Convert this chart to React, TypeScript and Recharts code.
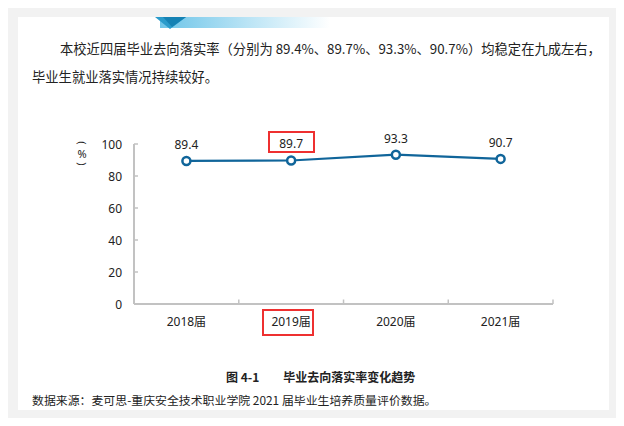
import React from 'react';
import { LineChart, Line, XAxis, YAxis, LabelList } from 'recharts';

const categories = ['2018届', '2019届', '2020届', '2021届'];
const rates = [89.4, 89.7, 93.3, 90.7];
const yTicks = [0, 20, 40, 60, 80, 100];

const chartData = categories.map((year, i) => ({ year, rate: rates[i] }));

const LINE_COLOR = '#10659a';
const AXIS_COLOR = '#c2c2c2';
const TEXT_COLOR = '#222222';
const FONT = '"Noto Sans", "Noto Sans CJK SC", sans-serif';
const CJK_FONT = '"Noto Sans CJK SC", "Noto Sans", sans-serif';
const HALF_BAND = 52.4;

const YTick = (props: any) => {
  const { x, y, payload } = props;
  const axisX = x + 12;
  return (
    <g>
      <line x1={axisX} x2={axisX + 4} y1={y} y2={y} stroke={AXIS_COLOR} strokeWidth={1.5} />
      <text x={x} y={y} dy={4.5} textAnchor="end" fontSize={12} fill={TEXT_COLOR} fontFamily={FONT}>
        {payload.value}
      </text>
    </g>
  );
};

const XTick = (props: any) => {
  const { x, y, payload } = props;
  const edge = x + HALF_BAND;
  return (
    <g>
      <line x1={edge} x2={edge} y1={y} y2={y - 4.5} stroke={AXIS_COLOR} strokeWidth={1.5} />
      <text x={x} y={y} dy={22} textAnchor="middle" fontSize={12} fill={TEXT_COLOR} fontFamily={FONT}>
        {payload.value}
      </text>
    </g>
  );
};

const redBox = (left: number, top: number, width: number, height: number): React.CSSProperties => ({
  position: 'absolute',
  left,
  top,
  width,
  height,
  border: '2.5px solid #ee3030',
  boxSizing: 'border-box',
});

export default function App() {
  return (
    <div style={{ position: 'relative', width: 624, height: 426, margin: -8, background: '#ffffff', overflow: 'hidden' }}>
      {/* page frame */}
      <div style={{ position: 'absolute', left: 6, top: 6, width: 613, height: 415, background: '#f2f2f2', border: '1px solid #cccccc', boxSizing: 'border-box' }} />
      <div style={{ position: 'absolute', left: 18, top: 17, width: 591, height: 393, background: '#ffffff' }} />

      {/* heading ribbon */}
      <div style={{ position: 'absolute', left: 160, top: 17, width: 170, height: 11, background: 'linear-gradient(to right, #6cc4e8, #bfe6f6 55%, #ffffff)' }} />
      <svg style={{ position: 'absolute', left: 0, top: 0 }} width={624} height={40}>
        <polygon points="155,17 186,17 170,29" fill="#2a9bcb" />
        <polygon points="163,17 186,17 172,27" fill="#1582b4" />
      </svg>

      {/* paragraph */}
      <div style={{ position: 'absolute', left: 60, top: 39, fontFamily: CJK_FONT, fontSize: 13.3, color: TEXT_COLOR, whiteSpace: 'nowrap', lineHeight: '20px' }}>
        本校近四届毕业去向落实率（分别为 89.4%、89.7%、93.3%、90.7%）均稳定在九成左右，
      </div>
      <div style={{ position: 'absolute', left: 32, top: 67, fontFamily: CJK_FONT, fontSize: 13.3, color: TEXT_COLOR, whiteSpace: 'nowrap', lineHeight: '20px' }}>
        毕业生就业落实情况持续较好。
      </div>

      {/* chart */}
      <div style={{ position: 'absolute', left: 0, top: 0 }}>
        <LineChart width={624} height={426} data={chartData} margin={{ top: 144, right: 71, bottom: 92, left: 74 }}>
          <XAxis
            dataKey="year"
            height={30}
            padding={{ left: HALF_BAND, right: HALF_BAND }}
            axisLine={{ stroke: AXIS_COLOR, strokeWidth: 2 }}
            tickLine={false}
            tickSize={0}
            tickMargin={0}
            tick={<XTick />}
            interval={0}
          />
          <YAxis
            width={60}
            domain={[0, 100]}
            ticks={yTicks}
            axisLine={{ stroke: AXIS_COLOR, strokeWidth: 2 }}
            tickLine={false}
            tickSize={0}
            tickMargin={12}
            tick={<YTick />}
            interval={0}
          />
          <Line
            type="linear"
            dataKey="rate"
            stroke={LINE_COLOR}
            strokeWidth={2.2}
            dot={{ r: 4, fill: '#ffffff', stroke: LINE_COLOR, strokeWidth: 2.5 }}
            isAnimationActive={false}
          >
            <LabelList dataKey="rate" position="top" offset={12} fontSize={12} fill={TEXT_COLOR} fontFamily={FONT} />
          </Line>
        </LineChart>
      </div>

      {/* unit label, vertical */}
      <svg style={{ position: 'absolute', left: 0, top: 0 }} width={140} height={200}>
        <text x={82} y={143} textAnchor="middle" dominantBaseline="central" fontSize={11} fill={TEXT_COLOR} fontFamily={FONT} transform="rotate(90 82 143)">(</text>
        <text x={82} y={153} textAnchor="middle" dominantBaseline="central" fontSize={11} fill={TEXT_COLOR} fontFamily={FONT}>%</text>
        <text x={82} y={164} textAnchor="middle" dominantBaseline="central" fontSize={11} fill={TEXT_COLOR} fontFamily={FONT} transform="rotate(90 82 164)">)</text>
      </svg>

      {/* highlight boxes */}
      <div style={redBox(268, 131, 47, 22)} />
      <div style={redBox(262, 309, 52, 27)} />

      {/* caption and source */}
      <div style={{ position: 'absolute', left: 226, top: 369, fontFamily: CJK_FONT, fontSize: 12, fontWeight: 700, color: TEXT_COLOR, whiteSpace: 'nowrap', lineHeight: '16px' }}>
        图 4-1<span style={{ display: 'inline-block', width: 24 }} />毕业去向落实率变化趋势
      </div>
      <div style={{ position: 'absolute', left: 32, top: 392, fontFamily: CJK_FONT, fontSize: 11.9, color: TEXT_COLOR, whiteSpace: 'nowrap', lineHeight: '16px' }}>
        数据来源：麦可思-重庆安全技术职业学院 2021 届毕业生培养质量评价数据。
      </div>
    </div>
  );
}
